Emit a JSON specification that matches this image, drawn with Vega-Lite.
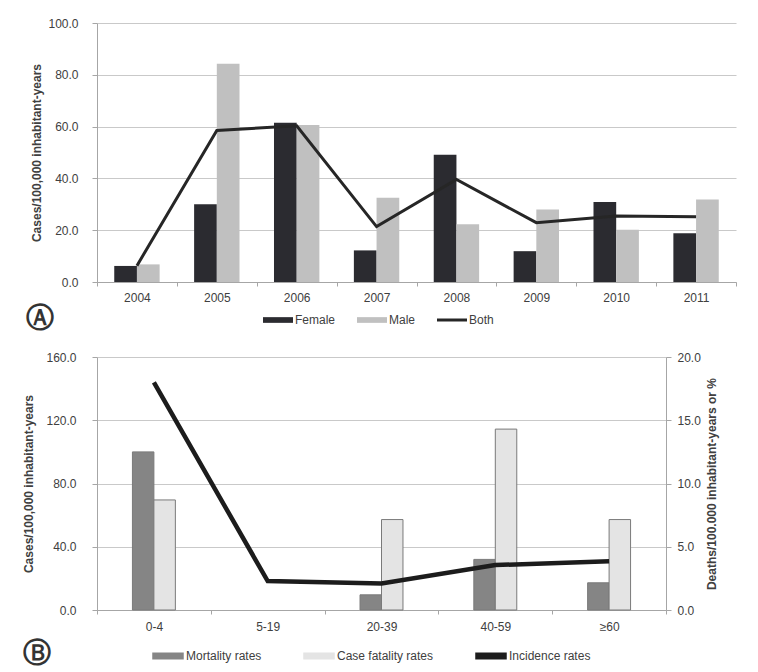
{
  "$schema": "https://vega.github.io/schema/vega-lite/v6.json",
  "background": "white",
  "padding": {"left": 22, "top": 17, "right": 20, "bottom": 5},
  "spacing": 18,
  "config": {
    "font": "Liberation Sans",
    "view": {"stroke": null},
    "axis": {
      "labelFont": "Liberation Sans", "labelFontSize": 12, "labelColor": "#404040",
      "titleFont": "Liberation Sans", "titleFontSize": 12, "titleFontWeight": "bold", "titleColor": "#404040",
      "domainColor": "#a6a6a6", "tickColor": "#a6a6a6", "gridColor": "#c9c9c9", "tickSize": 5
    },
    "legend": {
      "labelFont": "Liberation Sans", "labelFontSize": 12, "labelColor": "#404040",
      "symbolSize": 900, "symbolType": "M-1,-0.19H1V0.19H-1Z", "labelOffset": 2, "padding": 0,
      "direction": "horizontal", "orient": "none", "title": null
    },
    "title": {"font": "DejaVu Sans", "fontSize": 28, "fontWeight": "bold", "color": "#333333"}
  },
  "resolve": {"scale": {"color": "independent", "x": "independent", "y": "independent", "xOffset": "independent"}, "legend": {"color": "independent"}},
  "datasets": {
    "yearly": [
      {"year": "2004", "series": "Female", "value": 6.2},
      {"year": "2004", "series": "Male", "value": 6.8},
      {"year": "2005", "series": "Female", "value": 30.0},
      {"year": "2005", "series": "Male", "value": 84.3},
      {"year": "2006", "series": "Female", "value": 61.5},
      {"year": "2006", "series": "Male", "value": 60.6},
      {"year": "2007", "series": "Female", "value": 12.2},
      {"year": "2007", "series": "Male", "value": 32.5},
      {"year": "2008", "series": "Female", "value": 49.1},
      {"year": "2008", "series": "Male", "value": 22.3},
      {"year": "2009", "series": "Female", "value": 11.9},
      {"year": "2009", "series": "Male", "value": 28.0},
      {"year": "2010", "series": "Female", "value": 30.9},
      {"year": "2010", "series": "Male", "value": 20.2},
      {"year": "2011", "series": "Female", "value": 18.8},
      {"year": "2011", "series": "Male", "value": 31.9},
      {"year": "2004", "series": "Both", "value": 6.3},
      {"year": "2005", "series": "Both", "value": 58.5},
      {"year": "2006", "series": "Both", "value": 60.3},
      {"year": "2007", "series": "Both", "value": 21.4},
      {"year": "2008", "series": "Both", "value": 39.6},
      {"year": "2009", "series": "Both", "value": 22.9},
      {"year": "2010", "series": "Both", "value": 25.5},
      {"year": "2011", "series": "Both", "value": 25.2}
    ],
    "age": [
      {"age": "0-4", "series": "Mortality rates", "value": 12.5},
      {"age": "0-4", "series": "Case fatality rates", "value": 8.7},
      {"age": "20-39", "series": "Mortality rates", "value": 1.2},
      {"age": "20-39", "series": "Case fatality rates", "value": 7.15},
      {"age": "40-59", "series": "Mortality rates", "value": 4.0},
      {"age": "40-59", "series": "Case fatality rates", "value": 14.3},
      {"age": ">=60", "series": "Mortality rates", "value": 2.15},
      {"age": ">=60", "series": "Case fatality rates", "value": 7.15},
      {"age": "0-4", "series": "Incidence rates", "value": 143.9},
      {"age": "5-19", "series": "Incidence rates", "value": 18.3},
      {"age": "20-39", "series": "Incidence rates", "value": 16.8},
      {"age": "40-59", "series": "Incidence rates", "value": 28.4},
      {"age": ">=60", "series": "Incidence rates", "value": 30.9}
    ]
  },
  "vconcat": [
    {
      "width": 639,
      "height": 259,
      "data": {"name": "yearly"},
      "title": {"text": "Ⓐ", "orient": "bottom", "anchor": "start", "frame": "bounds", "dx": -5, "dy": -25},
      "resolve": {"scale": {"x": "independent"}},
      "layer": [
        {
          "transform": [{"filter": "datum.series !== 'Both'"}],
          "mark": {"type": "bar"},
          "encoding": {
            "x": {"field": "year", "type": "nominal", "scale": {"type": "band", "paddingInner": 0, "paddingOuter": 0},
                  "axis": {"title": null, "tickBand": "extent", "labelAngle": 0, "tickSize": 4, "labelPadding": 6, "grid": false}},
            "xOffset": {"field": "series", "type": "nominal", "sort": ["Female", "Male"],
                        "scale": {"paddingInner": 0, "paddingOuter": 0.76}},
            "y": {"field": "value", "type": "quantitative", "scale": {"domain": [0, 100]},
                  "axis": {"title": "Cases/100,000 inhabitant-years", "values": [0, 20, 40, 60, 80, 100], "format": ".1f", "labelPadding": 14, "titlePadding": 4, "grid": true}},
            "color": {"field": "series", "type": "nominal",
                      "scale": {"domain": ["Female", "Male", "Both"], "range": ["#2b2b30", "#c0c0c0", "#262626"]},
                      "legend": {"legendX": 166, "legendY": 282, "columnPadding": 21,
                                 "encode": {"symbols": {"update": {
                                   "shape": {"signal": "datum.value === 'Both' ? 'M-1,-0.1H1V0.1H-1Z' : 'M-1,-0.19H1V0.19H-1Z'"},
                                   "fill": {"signal": "datum.value === 'Female' ? '#2b2b30' : datum.value === 'Male' ? '#c0c0c0' : '#262626'"},
                                   "stroke": {"value": "transparent"},
                                   "strokeWidth": {"value": 0},
                                   "opacity": {"value": 1}
                                 }}}}}
          }
        },
        {
          "transform": [{"filter": "datum.series === 'Both'"}],
          "mark": {"type": "line", "strokeWidth": 3},
          "encoding": {
            "x": {"field": "year", "type": "nominal", "scale": {"type": "band", "paddingInner": 0, "paddingOuter": 0}, "axis": null},
            "y": {"field": "value", "type": "quantitative"},
            "color": {"field": "series", "type": "nominal"}
          }
        }
      ]
    },
    {
      "width": 569,
      "height": 253,
      "data": {"name": "age"},
      "title": {"text": "Ⓑ", "orient": "bottom", "anchor": "start", "frame": "bounds", "dx": 0, "dy": -26},
      "resolve": {"scale": {"x": "independent", "y": "independent"}},
      "layer": [
        {
          "transform": [{"filter": "datum.series !== 'Incidence rates'"}],
          "mark": {"type": "bar", "stroke": "#7a7a7a", "strokeWidth": 1},
          "encoding": {
            "x": {"field": "age", "type": "nominal", "sort": ["0-4", "5-19", "20-39", "40-59", ">=60"],
                  "scale": {"type": "band", "domain": ["0-4", "5-19", "20-39", "40-59", ">=60"], "paddingInner": 0, "paddingOuter": 0},
                  "axis": {"title": null, "tickBand": "extent", "labelAngle": 0, "tickSize": 4, "labelPadding": 7, "grid": false,
                           "labelExpr": "datum.value === '>=60' ? '≥60' : datum.value"}},
            "xOffset": {"field": "series", "type": "nominal",
                        "scale": {"domain": ["_gapL", "Mortality rates", "Case fatality rates", "_gapR"], "paddingInner": 0, "paddingOuter": 0.65}},
            "y": {"field": "value", "type": "quantitative", "scale": {"domain": [0, 20]},
                  "axis": {"orient": "right", "title": "Deaths/100.000 inhabitant-years or %", "titleAngle": -90, "values": [0, 5, 10, 15, 20], "format": ".1f", "labelPadding": 6, "titlePadding": 18, "grid": false}},
            "color": {"field": "series", "type": "nominal",
                      "scale": {"domain": ["Mortality rates", "Case fatality rates", "Incidence rates"], "range": ["#858585", "#e4e4e4", "#1c1c1c"]},
                      "legend": {"legendX": 55, "legendY": 283, "columnPadding": 39,
                                 "encode": {"symbols": {"update": {
                                   "shape": {"signal": "datum.value === 'Incidence rates' ? 'M-1,-0.17H1V0.17H-1Z' : 'M-1,-0.23H1V0.23H-1Z'"},
                                   "fill": {"signal": "datum.value === 'Mortality rates' ? '#858585' : datum.value === 'Case fatality rates' ? '#e4e4e4' : '#1c1c1c'"},
                                   "stroke": {"signal": "datum.value === 'Mortality rates' ? '#6e6e6e' : datum.value === 'Case fatality rates' ? '#8c8c8c' : '#1c1c1c'"},
                                   "strokeWidth": {"value": 1},
                                   "opacity": {"value": 1}
                                 }}}}}
          }
        },
        {
          "transform": [{"filter": "datum.series === 'Incidence rates'"}],
          "mark": {"type": "line", "strokeWidth": 4.5},
          "encoding": {
            "x": {"field": "age", "type": "nominal", "sort": ["0-4", "5-19", "20-39", "40-59", ">=60"],
                  "scale": {"type": "band", "domain": ["0-4", "5-19", "20-39", "40-59", ">=60"], "paddingInner": 0, "paddingOuter": 0}, "axis": null},
            "y": {"field": "value", "type": "quantitative", "scale": {"domain": [0, 160]},
                  "axis": {"orient": "left", "title": "Cases/100,000 inhabitant-years", "values": [0, 40, 80, 120, 160], "format": ".1f", "labelPadding": 16, "titlePadding": 10, "grid": true}},
            "color": {"field": "series", "type": "nominal"}
          }
        }
      ]
    }
  ]
}
